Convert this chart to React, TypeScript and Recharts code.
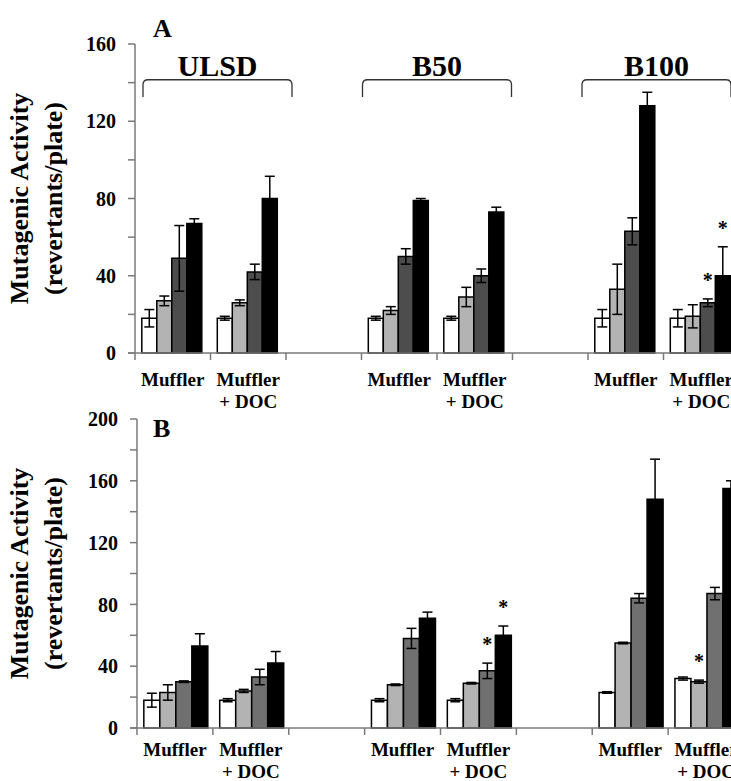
import React from "react";
import { BarChart, Bar, XAxis, YAxis, ErrorBar, LabelList, ReferenceArea } from "recharts";

const FONT = "'Liberation Serif', 'Times New Roman', serif";
const AXIS = "#7a7a7a";

// categories along the x axis (two empty slots separate the fuels)
const categories = ["ULSD-M", "ULSD-D", "gap1", "B50-M", "B50-D", "gap2", "B100-M", "B100-D"];
const categoryLines: Record<string, string[]> = {
  "ULSD-M": ["Muffler"],
  "ULSD-D": ["Muffler", "+ DOC"],
  "B50-M": ["Muffler"],
  "B50-D": ["Muffler", "+ DOC"],
  "B100-M": ["Muffler"],
  "B100-D": ["Muffler", "+ DOC"],
};

// fuel brackets over each pair of categories
const brackets = [
  { title: "ULSD", from: "ULSD-M", to: "ULSD-D" },
  { title: "B50", from: "B50-M", to: "B50-D" },
  { title: "B100", from: "B100-M", to: "B100-D" },
];

// panel A
const whiteA = [18, 18, null, 18, 18, null, 18, 18];
const whiteErrA = [4.5, 1, null, 1, 1, null, 4.5, 4.5];
const lightA = [27, 26, null, 22, 29, null, 33, 19];
const lightErrA = [2.5, 1.5, null, 2, 5, null, 13, 6];
const darkA = [49, 42, null, 50, 40, null, 63, 26];
const darkErrA = [17, 4, null, 4, 3.5, null, 7, 2];
const blackA = [67, 80, null, 79, 73, null, 128, 40];
const blackErrA = [2.5, 11.5, null, 1, 2.5, null, 7, 15];
const starsA: [number, string][] = [[2, "B100-D"], [3, "B100-D"]];
const ticksA = [0, 20, 40, 60, 80, 100, 120, 140, 160];

// panel B
const whiteB = [18, 18, null, 18, 18, null, 23, 32];
const whiteErrB = [4.5, 1, null, 1, 1, null, 0.5, 1];
const lightB = [23, 24, null, 28, 29, null, 55, 30];
const lightErrB = [5, 1, null, 0.5, 0.5, null, 0.5, 1];
const darkB = [30, 33, null, 58, 37, null, 84, 87];
const darkErrB = [0.5, 5, null, 6.5, 5, null, 3, 4];
const blackB = [53, 42, null, 71, 60, null, 148, 155];
const blackErrB = [8, 7.5, null, 4, 6, null, 26, 5];
const starsB: [number, string][] = [[2, "B50-D"], [3, "B50-D"], [1, "B100-D"]];
const ticksB = [0, 20, 40, 60, 80, 100, 120, 140, 160, 180, 200];

const colorsA = ["#ffffff", "#b3b3b3", "#4d4d4d", "#000000"];
const colorsB = ["#ffffff", "#b3b3b3", "#707070", "#000000"];

// small horizontal nudges of the brackets, in px
const BRACKET_SHIFT: Record<string, number> = { ULSD: 7, B50: 0, B100: -7 };

type Num = number | null;

function buildRows(series: Num[][], errors: Num[][], stars: [number, string][]) {
  return categories.map((name, i) => {
    const row: any = { name };
    series.forEach((s, k) => {
      row[`v${k}`] = s[i];
      row[`e${k}`] = errors[k][i];
      row[`s${k}`] = stars.some(([sk, c]) => sk === k && c === name) ? 1 : 0;
    });
    return row;
  });
}

const CHART_W = 760;
const CHART_H = 440;

function CategoryTick(props: any) {
  const { x, y, payload, bandWidth, textOffset } = props;
  const lines = categoryLines[payload.value] || [];
  const left = x - bandWidth / 2;
  const last = payload.index === categories.length - 1;
  return (
    <g>
      {payload.index === 0 && <line x1={left - 7} x2={left} y1={y} y2={y} stroke={AXIS} strokeWidth={1.5} />}
      <line x1={left} x2={left} y1={y} y2={y + 7} stroke={AXIS} strokeWidth={1.5} />
      {last && <line x1={x + bandWidth / 2} x2={x + bandWidth / 2} y1={y} y2={y + 7} stroke={AXIS} strokeWidth={1.5} />}
      {lines.map((t, i) => (
        <text key={i} x={x} y={y + textOffset + i * 22} textAnchor="middle" fontFamily={FONT} fontWeight="bold" fontSize={19} fill="#000">
          {t}
        </text>
      ))}
    </g>
  );
}

function YLabel(props: any) {
  const vb = props.viewBox || {};
  const cy = vb.y + vb.height / 2;
  const style = { fontFamily: FONT, fontWeight: "bold" as const, fontSize: 26, fill: "#000" };
  return (
    <g>
      <text transform={`translate(28,${cy}) rotate(-90)`} textAnchor="middle" {...style}>
        Mutagenic Activity
      </text>
      <text transform={`translate(62,${cy}) rotate(-90)`} textAnchor="middle" {...style}>
        (revertants/plate)
      </text>
    </g>
  );
}

function Bracket(props: any) {
  const { x, y, width, height, title } = props;
  const shift = BRACKET_SHIFT[title] || 0;
  const x0 = x + 1 + shift;
  const x1 = x + width - 1 + shift;
  const r = 5;
  const d = `M${x0},${y + height} L${x0},${y + r} Q${x0},${y} ${x0 + r},${y} L${x1 - r},${y} Q${x1},${y} ${x1},${y + r} L${x1},${y + height}`;
  return (
    <g>
      <path d={d} fill="none" stroke="#333" strokeWidth={1.3} />
      <text x={(x0 + x1) / 2} y={y - 4} textAnchor="middle" fontFamily={FONT} fontWeight="bold" fontSize={30} fill="#000">
        {title}
      </text>
    </g>
  );
}

// asterisk above the error bar; the row is found from the bar's x position
function Star(props: any, rows: any[], k: number, plotLeft: number, bandWidth: number) {
  const { x, y, width, height, value } = props;
  if (!value) return null;
  const idx = Math.floor((x + width / 2 - plotLeft) / bandWidth);
  const row = rows[idx] || {};
  const v = row[`v${k}`];
  const e = row[`e${k}`] || 0;
  const errPx = v ? (e * height) / v : 0;
  return (
    <text x={x + width / 2} y={y - errPx - 12} textAnchor="middle" fontFamily={FONT} fontWeight="bold" fontSize={20} fill="#000">
      *
    </text>
  );
}

function Panel({
  rows, colors, ticks, max, left, right, textOffset, showBrackets,
}: {
  rows: any[]; colors: string[]; ticks: number[]; max: number; left: number; right: number; textOffset: number; showBrackets: boolean;
}) {
  const bandWidth = (CHART_W - left - right) / categories.length;
  return (
    <BarChart
      width={CHART_W}
      height={CHART_H}
      data={rows}
      margin={{ top: 44, right, left: 0, bottom: 57 }}
      barCategoryGap="9%"
      barGap={0}
    >
      <XAxis
        dataKey="name"
        height={30}
        interval={0}
        tickSize={0}
        tickMargin={0}
        tickLine={false}
        axisLine={{ stroke: AXIS, strokeWidth: 1.5 }}
        tick={(p: any) => <CategoryTick {...p} bandWidth={bandWidth} textOffset={textOffset} />}
      />
      <YAxis
        width={left}
        domain={[0, max]}
        ticks={ticks}
        interval={0}
        tickSize={7}
        tickMargin={12}
        tickFormatter={(v: number) => (v % 40 === 0 ? String(v) : "")}
        tick={{ fill: "#000", fontSize: 20, fontWeight: "bold", fontFamily: FONT }}
        tickLine={{ stroke: AXIS, strokeWidth: 1.5 }}
        axisLine={{ stroke: AXIS, strokeWidth: 1.5 }}
        label={{ content: (p: any) => <YLabel {...p} /> }}
      />
      {showBrackets &&
        brackets.map((b) => (
          <ReferenceArea
            key={b.title}
            x1={b.from}
            x2={b.to}
            y1={132.5}
            y2={141.5}
            ifOverflow="visible"
            shape={(p: any) => <Bracket {...p} title={b.title} />}
          />
        ))}
      {colors.map((c, k) => (
        <Bar key={k} dataKey={`v${k}`} fill={c} stroke="#000" strokeWidth={1.5} isAnimationActive={false}>
          <ErrorBar dataKey={`e${k}`} width={5} stroke="#000" strokeWidth={1.5} />
          <LabelList dataKey={`s${k}`} content={(p: any) => Star(p, rows, k, left, bandWidth)} />
        </Bar>
      ))}
    </BarChart>
  );
}

const rowsA = buildRows(
  [whiteA, lightA, darkA, blackA],
  [whiteErrA, lightErrA, darkErrA, blackErrA],
  starsA
);
const rowsB = buildRows(
  [whiteB, lightB, darkB, blackB],
  [whiteErrB, lightErrB, darkErrB, blackErrB],
  starsB
);

export default function App() {
  return (
    <div style={{ position: "relative", width: 731, height: 781, overflow: "hidden", background: "#fff" }}>
      <style>{"body{margin:0;overflow:hidden;background:#fff}"}</style>
      <div style={{ position: "absolute", left: 0, top: 0 }}>
        <Panel rows={rowsA} colors={colorsA} ticks={ticksA} max={160} left={135} right={21} textOffset={33} showBrackets />
      </div>
      <div style={{ position: "absolute", left: 0, top: 375 }}>
        <Panel rows={rowsB} colors={colorsB} ticks={ticksB} max={200} left={137} right={16} textOffset={28} showBrackets={false} />
      </div>
      <svg width={731} height={781} style={{ position: "absolute", left: 0, top: 0, pointerEvents: "none" }}>
        <text x={153} y={37} fontFamily={FONT} fontWeight="bold" fontSize={26} fill="#000">A</text>
        <text x={153} y={437} fontFamily={FONT} fontWeight="bold" fontSize={26} fill="#000">B</text>
      </svg>
    </div>
  );
}
